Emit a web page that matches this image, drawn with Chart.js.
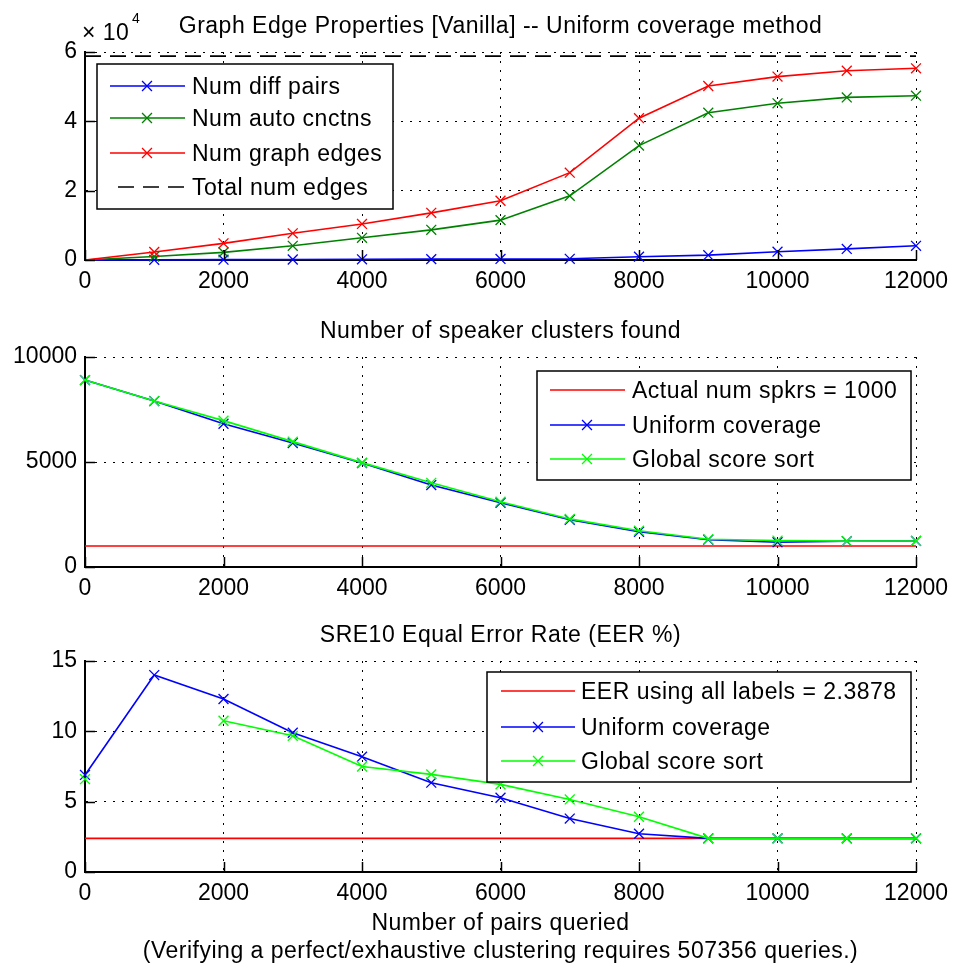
<!DOCTYPE html>
<html><head><meta charset="utf-8">
<script src="https://cdn.jsdelivr.net/npm/chart.js@4.4.0/dist/chart.umd.min.js"></script>
<style>
html,body{margin:0;padding:0;background:#fff;width:956px;height:964px;overflow:hidden}
canvas{position:absolute;left:0}
</style></head><body>
<canvas id="c1" width="956" height="310" style="top:0"></canvas>
<canvas id="c2" width="956" height="300" style="top:310px"></canvas>
<canvas id="c3" width="956" height="354" style="top:610px"></canvas>
<script>
// ---------- data ----------
const queries = [0,1000,2000,3000,4000,5000,6000,7000,8000,9000,10000,11000,12000];
// subplot 1 (raw counts)
const numDiffPairs  = [0, 50, 100, 150, 200, 250, 300, 350, 950, 1400, 2400, 3200, 4100];
const numAutoCnctns = [0, 1000, 2200, 4100, 6400, 8700, 11500, 18500, 33000, 42500, 45200, 46900, 47400];
const numGraphEdges = [0, 2300, 4800, 7700, 10400, 13600, 17100, 25200, 40900, 50200, 52900, 54600, 55300];
const totalNumEdges = 58800;
// subplot 2
const actualNumSpkrs = 1000;
const clustersUniform = [8900, 7900, 6820, 5900, 4950, 3900, 3060, 2250, 1680, 1300, 1180, 1230, 1240];
const clustersGlobal  = [8900, 7900, 6970, 5970, 4970, 4010, 3110, 2290, 1730, 1320, 1260, 1230, 1240];
// subplot 3
const eerAllLabels = 2.3878;
const eerUniform = [6.9, 14.0, 12.3, 9.9, 8.2, 6.35, 5.28, 3.8, 2.72, 2.39, 2.39, 2.39, 2.39];
const eerGlobal  = [6.6, null, 10.75, 9.68, 7.5, 6.94, 6.23, 5.16, 3.93, 2.39, 2.39, 2.39, 2.39];
// ticks
const xTicks = [0,2000,4000,6000,8000,10000,12000];
const y1Ticks = [0,20000,40000,60000];
const y2Ticks = [0,5000,10000];
const y3Ticks = [0,5,10,15];

// ---------- helpers ----------
const FAM = '"Liberation Sans", Arial, sans-serif';
const FS = 23;
const FONT = FS + 'px ' + FAM;
const MR = 7;
const pts = (ys) => queries.map((x,i)=>({x, y: ys[i]}));
const flat = (v) => queries.map(x=>({x, y: v}));

function line(label, data, color, order, extra){
  return Object.assign({
    label, data, borderColor: color, backgroundColor: color,
    borderWidth: 1.6, pointStyle: 'crossRot', pointRadius: MR, pointBorderWidth: 1.3,
    pointBorderColor: color, pointHoverRadius: MR, tension: 0, spanGaps: false,
    clip: false, order
  }, extra || {});
}

function drawMarker(ctx, x, y){
  const r = MR * Math.SQRT1_2;
  ctx.beginPath();
  ctx.moveTo(x-r, y-r); ctx.lineTo(x+r, y+r);
  ctx.moveTo(x+r, y-r); ctx.lineTo(x-r, y+r);
  ctx.lineWidth = 1.3; ctx.stroke();
}

const deco = {
  id: 'deco',
  afterDraw(chart, args, o){
    const ctx = chart.ctx, a = chart.chartArea;
    const xs = chart.scales.x, ys = chart.scales.y;
    ctx.save();
    if ('letterSpacing' in ctx) ctx.letterSpacing = '0.5px';
    // legend box
    if (o.legend){
      const L = o.legend;
      ctx.fillStyle = '#fff';
      ctx.fillRect(L.x, L.y, L.w, L.h);
      ctx.strokeStyle = '#000'; ctx.lineWidth = 1.5; ctx.setLineDash([]);
      ctx.strokeRect(L.x, L.y, L.w, L.h);
      L.items.forEach((it, i) => {
        const y = L.rows[i];
        ctx.strokeStyle = it.color; ctx.lineWidth = 1.6;
        ctx.setLineDash(it.dash || []);
        ctx.beginPath();
        ctx.moveTo(it.dash ? L.lx[0] + 8 : L.lx[0], y); ctx.lineTo(L.lx[1], y); ctx.stroke();
        ctx.setLineDash([]);
        if (it.marker) drawMarker(ctx, L.mx, y);
        ctx.fillStyle = '#000'; ctx.font = FONT; ctx.textAlign = 'left'; ctx.textBaseline = 'alphabetic';
        ctx.fillText(it.label, L.tx, y + 8);
      });
    }
    // inward tick marks
    ctx.strokeStyle = '#000'; ctx.lineWidth = 1.5; ctx.setLineDash([]);
    xs.ticks.forEach(t => {
      const px = Math.round(xs.getPixelForValue(t.value)) + 0.5;
      ctx.beginPath(); ctx.moveTo(px, a.bottom); ctx.lineTo(px, a.bottom - 10); ctx.stroke();
    });
    ys.ticks.forEach(t => {
      const py = Math.round(ys.getPixelForValue(t.value)) + 0.5;
      ctx.beginPath(); ctx.moveTo(a.left, py); ctx.lineTo(a.left + 10, py); ctx.stroke();
    });
    // texts
    ctx.fillStyle = '#000'; ctx.textBaseline = 'alphabetic';
    (o.texts || []).forEach(t => {
      ctx.font = (t.size || FS) + 'px ' + FAM;
      ctx.textAlign = t.align || 'center';
      ctx.fillText(t.text, t.x === undefined ? (a.left + a.right) / 2 : t.x, t.y);
    });
    ctx.restore();
  }
};

function makeChart(id, datasets, yMin, yMax, yTicks, yFmt, padTop, padBottom, decoOpts){
  return new Chart(document.getElementById(id), {
    type: 'line',
    data: { datasets },
    plugins: [deco],
    options: {
      responsive: false, animation: false, events: [],
      layout: { padding: { left: 0, right: 36, top: padTop, bottom: padBottom } },
      plugins: { legend: { display: false }, tooltip: { enabled: false }, title: { display: false }, deco: decoOpts },
      scales: {
        x: {
          type: 'linear', min: 0, max: 12000,
          afterBuildTicks: s => { s.ticks = xTicks.map(v => ({ value: v })); },
          afterFit: s => { s.height = 40; },
          ticks: { color: '#000', font: { family: FAM, size: FS }, padding: 8, maxRotation: 0, autoSkip: false,
                   callback: v => String(v) },
          grid: { color: '#000', lineWidth: 1, drawTicks: false },
          border: { display: true, color: '#000', width: 2, dash: [2, 7] }
        },
        y: {
          type: 'linear', min: yMin, max: yMax,
          afterBuildTicks: s => { s.ticks = yTicks.map(v => ({ value: v })); },
          afterFit: s => { s.width = 85; },
          ticks: { color: '#000', font: { family: FAM, size: FS }, padding: 8, autoSkip: false, callback: yFmt },
          grid: { color: '#000', lineWidth: 1, drawTicks: false },
          border: { display: true, color: '#000', width: 2, dash: [2, 7] }
        }
      }
    }
  });
}

const BLUE = '#0000ff', DGREEN = '#008000', RED = '#ff0000', LGREEN = '#00ff00';
const hideFirst = queries.map((x,i)=> i === 0 ? 0 : MR);

// subplot 1
makeChart('c1', [
  line('Num diff pairs', pts(numDiffPairs), BLUE, 4, { pointRadius: hideFirst }),
  line('Num auto cnctns', pts(numAutoCnctns), DGREEN, 3, { pointRadius: hideFirst }),
  line('Num graph edges', pts(numGraphEdges), RED, 2, { pointRadius: hideFirst }),
  line('Total num edges', flat(totalNumEdges), '#000', 1, { pointRadius: 0, borderDash: [16, 9] })
], 0, 60000, y1Ticks, v => String(v / 10000), 52, 10, {
  texts: [
    { text: 'Graph Edge Properties [Vanilla] -- Uniform coverage method', y: 33 },
    { text: '\u00d7 10', x: 82, y: 40, align: 'left' },
    { text: '4', x: 132, y: 23, align: 'left', size: 14 }
  ],
  legend: {
    x: 97, y: 64, w: 296, h: 145, rows: [86, 118, 153, 187], lx: [110, 185], mx: 147, tx: 192,
    items: [
      { label: 'Num diff pairs', color: BLUE, marker: true },
      { label: 'Num auto cnctns', color: DGREEN, marker: true },
      { label: 'Num graph edges', color: RED, marker: true },
      { label: 'Total num edges', color: '#000', dash: [16, 9] }
    ]
  }
});

// subplot 2
makeChart('c2', [
  line('Actual num spkrs = ' + actualNumSpkrs, flat(actualNumSpkrs), RED, 3, { pointRadius: 0 }),
  line('Uniform coverage', pts(clustersUniform), BLUE, 2),
  line('Global score sort', pts(clustersGlobal), LGREEN, 1)
], 0, 10000, y2Ticks, v => String(v), 47, 3, {
  texts: [ { text: 'Number of speaker clusters found', y: 28 } ],
  legend: {
    x: 537, y: 61, w: 374, h: 109, rows: [80, 115, 149], lx: [550, 625], mx: 587, tx: 632,
    items: [
      { label: 'Actual num spkrs = ' + actualNumSpkrs, color: RED },
      { label: 'Uniform coverage', color: BLUE, marker: true },
      { label: 'Global score sort', color: LGREEN, marker: true }
    ]
  }
});

// subplot 3
makeChart('c3', [
  line('EER using all labels = ' + eerAllLabels, flat(eerAllLabels), RED, 3, { pointRadius: 0 }),
  line('Uniform coverage', pts(eerUniform), BLUE, 2),
  line('Global score sort', pts(eerGlobal), LGREEN, 1)
], 0, 15, y3Ticks, v => String(v), 51, 52, {
  texts: [
    { text: 'SRE10 Equal Error Rate (EER %)', y: 32 },
    { text: 'Number of pairs queried', y: 320 },
    { text: '(Verifying a perfect/exhaustive clustering requires 507356 queries.)', y: 348 }
  ],
  legend: {
    x: 487, y: 62, w: 424, h: 110, rows: [81, 117, 151], lx: [501, 575], mx: 538, tx: 581,
    items: [
      { label: 'EER using all labels = ' + eerAllLabels, color: RED },
      { label: 'Uniform coverage', color: BLUE, marker: true },
      { label: 'Global score sort', color: LGREEN, marker: true }
    ]
  }
});
</script>
</body></html>
